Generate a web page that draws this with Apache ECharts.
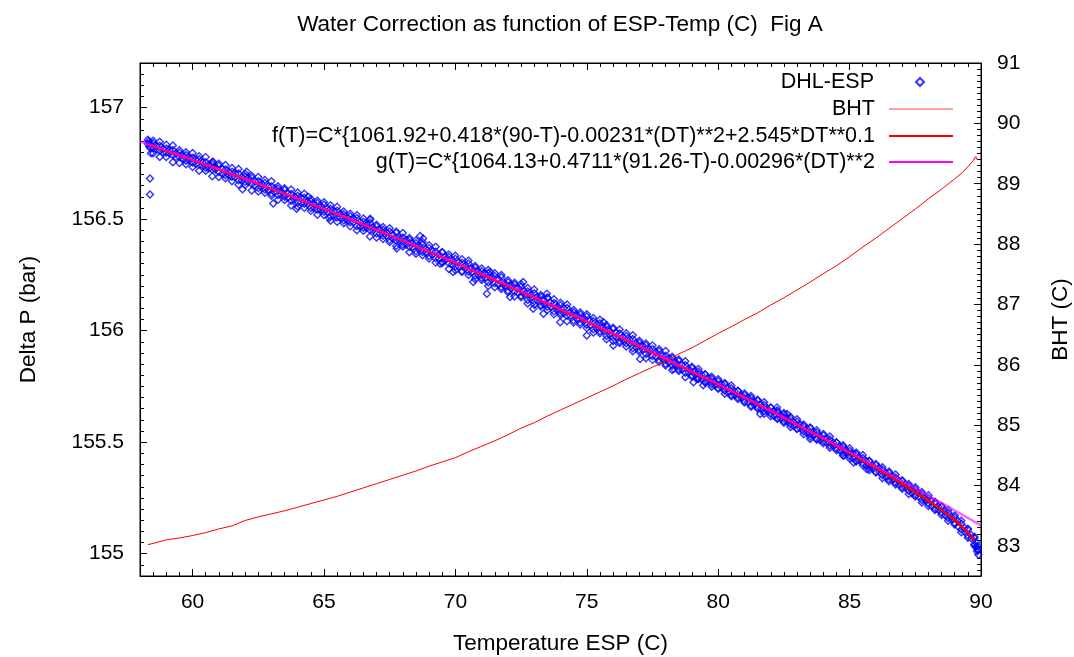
<!DOCTYPE html>
<html>
<head>
<meta charset="utf-8">
<script src="https://cdn.jsdelivr.net/npm/echarts@6/dist/echarts.min.js"></script>
<style>
  html, body { margin: 0; padding: 0; background: #fff; }
  #chart { width: 1074px; height: 657px; }
</style>
</head>
<body>
<div id="chart"></div>
<script>
// DHL-ESP readings: several readings per temperature step
const espTemp = [58.5, 58.75, 59, 59.25, 59.5, 59.75, 60, 60.25, 60.5, 60.75, 61, 61.25, 61.5, 61.75,
  62, 62.25, 62.5, 62.75, 63, 63.25, 63.5, 63.75, 64, 64.25, 64.5, 64.75, 65, 65.25, 65.5, 65.75,
  66, 66.25, 66.5, 66.75, 67, 67.25, 67.5, 67.75, 68, 68.25, 68.5, 68.75, 69, 69.25, 69.5, 69.75,
  70, 70.25, 70.5, 70.75, 71, 71.25, 71.5, 71.75, 72, 72.25, 72.5, 72.75, 73, 73.25, 73.5, 73.75,
  74, 74.25, 74.5, 74.75, 75, 75.25, 75.5, 75.75, 76, 76.25, 76.5, 76.75, 77, 77.25, 77.5, 77.75,
  78, 78.25, 78.5, 78.75, 79, 79.25, 79.5, 79.75, 80, 80.25, 80.5, 80.75, 81, 81.25, 81.5, 81.75,
  82, 82.25, 82.5, 82.75, 83, 83.25, 83.5, 83.75, 84, 84.25, 84.5, 84.75, 85, 85.25, 85.5, 85.75,
  86, 86.25, 86.5, 86.75, 87, 87.25, 87.5, 87.75, 88, 88.25, 88.5, 88.75, 89, 89.25, 89.5, 89.75];
const deltaPUpper = [156.841, 156.829, 156.817, 156.810, 156.798, 156.788, 156.775, 156.769, 156.755, 156.746,
  156.739, 156.722, 156.713, 156.705, 156.691, 156.686, 156.670, 156.662, 156.646, 156.637,
  156.631, 156.613, 156.605, 156.596, 156.580, 156.572, 156.564, 156.547, 156.538, 156.522,
  156.513, 156.505, 156.488, 156.484, 156.467, 156.452, 156.445, 156.439, 156.418, 156.408,
  156.392, 156.386, 156.370, 156.354, 156.350, 156.331, 156.322, 156.305, 156.301, 156.283,
  156.266, 156.259, 156.244, 156.239, 156.217, 156.207, 156.197, 156.176, 156.168, 156.152,
  156.146, 156.124, 156.114, 156.102, 156.083, 156.072, 156.063, 156.043, 156.033, 156.017,
  156.007, 155.987, 155.976, 155.963, 155.946, 155.934, 155.918, 155.908, 155.888, 155.876,
  155.864, 155.846, 155.833, 155.816, 155.803, 155.786, 155.773, 155.760, 155.742, 155.729,
  155.711, 155.698, 155.686, 155.667, 155.654, 155.636, 155.624, 155.606, 155.592, 155.573,
  155.562, 155.544, 155.530, 155.512, 155.498, 155.480, 155.461, 155.447, 155.429, 155.415,
  155.396, 155.376, 155.362, 155.342, 155.325, 155.304, 155.289, 155.268, 155.250, 155.227,
  155.209, 155.185, 155.163, 155.134, 155.108, 155.069];
const deltaPLower = [156.819, 156.807, 156.798, 156.786, 156.779, 156.762, 156.754, 156.745, 156.730, 156.723,
  156.711, 156.697, 156.690, 156.674, 156.667, 156.658, 156.639, 156.633, 156.615, 156.608,
  156.600, 156.582, 156.576, 156.569, 156.550, 156.543, 156.533, 156.513, 156.507, 156.494,
  156.486, 156.468, 156.461, 156.451, 156.435, 156.425, 156.407, 156.403, 156.386, 156.376,
  156.356, 156.353, 156.335, 156.325, 156.308, 156.302, 156.286, 156.268, 156.264, 156.246,
  156.236, 156.216, 156.212, 156.196, 156.180, 156.174, 156.156, 156.137, 156.132, 156.115,
  156.107, 156.086, 156.078, 156.067, 156.045, 156.036, 156.026, 156.006, 155.997, 155.976,
  155.969, 155.953, 155.944, 155.921, 155.914, 155.895, 155.886, 155.869, 155.852, 155.844,
  155.827, 155.811, 155.800, 155.788, 155.770, 155.760, 155.743, 155.731, 155.712, 155.700,
  155.683, 155.665, 155.656, 155.639, 155.627, 155.608, 155.594, 155.580, 155.561, 155.548,
  155.535, 155.515, 155.503, 155.485, 155.472, 155.451, 155.437, 155.418, 155.405, 155.386,
  155.367, 155.352, 155.333, 155.318, 155.298, 155.282, 155.262, 155.241, 155.225, 155.202,
  155.184, 155.160, 155.138, 155.109, 155.082, 155.042];
// outer edge of the band, same temperatures
const deltaPOuterHigh = [156.851, 156.847, 156.834, 156.830, 156.809, 156.800, 156.796, 156.782, 156.778, 156.756,
  156.748, 156.743, 156.729, 156.725, 156.703, 156.694, 156.689, 156.675, 156.670, 156.647,
  156.638, 156.633, 156.619, 156.614, 156.591, 156.582, 156.576, 156.562, 156.556, 156.534,
  156.524, 156.518, 156.503, 156.497, 156.475, 156.465, 156.459, 156.444, 156.438, 156.415,
  156.404, 156.398, 156.383, 156.376, 156.353, 156.342, 156.336, 156.320, 156.314, 156.290,
  156.279, 156.272, 156.257, 156.250, 156.226, 156.215, 156.208, 156.191, 156.184, 156.160,
  156.149, 156.141, 156.125, 156.117, 156.093, 156.081, 156.074, 156.057, 156.049, 156.025,
  156.013, 156.005, 155.988, 155.979, 155.955, 155.942, 155.934, 155.917, 155.909, 155.883,
  155.871, 155.863, 155.838, 155.828, 155.805, 155.793, 155.782, 155.765, 155.754, 155.731,
  155.718, 155.707, 155.690, 155.679, 155.656, 155.643, 155.631, 155.614, 155.603, 155.579,
  155.566, 155.554, 155.537, 155.525, 155.500, 155.486, 155.473, 155.454, 155.442, 155.417,
  155.402, 155.388, 155.369, 155.355, 155.329, 155.312, 155.298, 155.277, 155.262, 155.233,
  155.214, 155.196, 155.171, 155.148, 155.112, 155.076];
const deltaPOuterLow = [156.795, 156.779, 156.779, 156.755, 156.752, 156.746, 156.734, 156.717, 156.717, 156.692,
  156.689, 156.683, 156.670, 156.654, 156.653, 156.628, 156.624, 156.618, 156.605, 156.587,
  156.586, 156.561, 156.557, 156.551, 156.537, 156.520, 156.518, 156.493, 156.488, 156.482,
  156.468, 156.450, 156.448, 156.422, 156.418, 156.411, 156.397, 156.379, 156.377, 156.351,
  156.345, 156.338, 156.324, 156.305, 156.303, 156.276, 156.271, 156.263, 156.249, 156.230,
  156.227, 156.200, 156.195, 156.187, 156.172, 156.153, 156.150, 156.122, 156.116, 156.108,
  156.093, 156.073, 156.070, 156.042, 156.036, 156.027, 156.012, 155.992, 155.988, 155.961,
  155.954, 155.945, 155.929, 155.908, 155.905, 155.876, 155.869, 155.860, 155.844, 155.823,
  155.819, 155.791, 155.794, 155.783, 155.767, 155.749, 155.740, 155.717, 155.706, 155.694,
  155.678, 155.659, 155.650, 155.627, 155.616, 155.604, 155.587, 155.568, 155.559, 155.535,
  155.524, 155.511, 155.495, 155.475, 155.464, 155.440, 155.427, 155.413, 155.396, 155.375,
  155.364, 155.338, 155.325, 155.310, 155.291, 155.268, 155.256, 155.229, 155.214, 155.196,
  155.174, 155.148, 155.131, 155.096, 155.072, 155.037];
// readings in between, closer to the middle of the band
const espTemp2 = [58.625, 58.875, 59.125, 59.375, 59.625, 59.875, 60.125, 60.375, 60.625, 60.875,
  61.125, 61.375, 61.625, 61.875, 62.125, 62.375, 62.625, 62.875, 63.125, 63.375, 63.625, 63.875,
  64.125, 64.375, 64.625, 64.875, 65.125, 65.375, 65.625, 65.875, 66.125, 66.375, 66.625, 66.875,
  67.125, 67.375, 67.625, 67.875, 68.125, 68.375, 68.625, 68.875, 69.125, 69.375, 69.625, 69.875,
  70.125, 70.375, 70.625, 70.875, 71.125, 71.375, 71.625, 71.875, 72.125, 72.375, 72.625, 72.875,
  73.125, 73.375, 73.625, 73.875, 74.125, 74.375, 74.625, 74.875, 75.125, 75.375, 75.625, 75.875,
  76.125, 76.375, 76.625, 76.875, 77.125, 77.375, 77.625, 77.875, 78.125, 78.375, 78.625, 78.875,
  79.125, 79.375, 79.625, 79.875, 80.125, 80.375, 80.625, 80.875, 81.125, 81.375, 81.625, 81.875,
  82.125, 82.375, 82.625, 82.875, 83.125, 83.375, 83.625, 83.875, 84.125, 84.375, 84.625, 84.875,
  85.125, 85.375, 85.625, 85.875, 86.125, 86.375, 86.625, 86.875, 87.125, 87.375, 87.625, 87.875,
  88.125, 88.375, 88.625, 88.875, 89.125, 89.375, 89.625, 89.875];
const deltaPUpper2 = [156.828, 156.816, 156.810, 156.797, 156.788, 156.774, 156.769, 156.755, 156.745, 156.733,
  156.726, 156.712, 156.704, 156.689, 156.684, 156.669, 156.659, 156.646, 156.639, 156.624,
  156.615, 156.600, 156.595, 156.580, 156.569, 156.556, 156.548, 156.534, 156.524, 156.509,
  156.503, 156.487, 156.476, 156.462, 156.455, 156.440, 156.430, 156.414, 156.408, 156.391,
  156.380, 156.366, 156.357, 156.342, 156.331, 156.315, 156.308, 156.292, 156.280, 156.265,
  156.256, 156.241, 156.230, 156.213, 156.206, 156.189, 156.177, 156.161, 156.152, 156.136,
  156.125, 156.107, 156.100, 156.082, 156.070, 156.054, 156.045, 156.028, 156.016, 155.999,
  155.991, 155.973, 155.959, 155.943, 155.933, 155.916, 155.904, 155.886, 155.877, 155.859,
  155.846, 155.829, 155.819, 155.801, 155.789, 155.770, 155.761, 155.742, 155.728, 155.711,
  155.700, 155.682, 155.669, 155.650, 155.641, 155.622, 155.607, 155.590, 155.579, 155.560,
  155.547, 155.527, 155.518, 155.497, 155.482, 155.463, 155.450, 155.431, 155.416, 155.395,
  155.384, 155.362, 155.346, 155.326, 155.311, 155.290, 155.273, 155.250, 155.236, 155.211,
  155.191, 155.166, 155.145, 155.115, 155.084, 155.033];
const deltaPLower2 = [156.813, 156.800, 156.795, 156.778, 156.771, 156.763, 156.747, 156.741, 156.727, 156.722,
  156.704, 156.697, 156.689, 156.673, 156.666, 156.652, 156.646, 156.628, 156.621, 156.611,
  156.595, 156.588, 156.574, 156.568, 156.549, 156.542, 156.532, 156.516, 156.508, 156.494,
  156.487, 156.468, 156.460, 156.450, 156.434, 156.426, 156.411, 156.404, 156.385, 156.376,
  156.366, 156.349, 156.340, 156.325, 156.317, 156.298, 156.289, 156.279, 156.261, 156.252,
  156.236, 156.229, 156.209, 156.200, 156.189, 156.171, 156.162, 156.145, 156.137, 156.117,
  156.108, 156.096, 156.078, 156.068, 156.052, 156.043, 156.023, 156.013, 156.001, 155.983,
  155.973, 155.956, 155.946, 155.925, 155.915, 155.903, 155.884, 155.874, 155.856, 155.847,
  155.826, 155.815, 155.803, 155.783, 155.773, 155.755, 155.745, 155.723, 155.712, 155.699,
  155.679, 155.668, 155.650, 155.640, 155.618, 155.607, 155.593, 155.573, 155.562, 155.543,
  155.533, 155.510, 155.499, 155.484, 155.463, 155.450, 155.430, 155.419, 155.395, 155.382,
  155.367, 155.344, 155.331, 155.310, 155.296, 155.271, 155.256, 155.239, 155.214, 155.197,
  155.173, 155.155, 155.123, 155.100, 155.069, 155.017];
// scattered readings off the band
const extraTemp = [58.30, 58.30, 58.33, 58.35, 58.38, 58.40, 58.42, 58.38, 58.38, 60.78, 61.90, 62.06,
  63.07, 63.96, 64.40, 65.20, 66.76, 67.77, 68.66, 68.77, 69.42, 69.91, 70.68, 71.20, 71.32, 72.08,
  72.58, 72.96, 73.35, 73.48, 73.99, 75.00, 75.64, 76.01, 77.03, 78.30, 79.06, 79.19, 79.43, 81.60,
  82.24, 82.62, 83.50, 84.77, 85.15, 85.66, 89.80, 89.82, 89.85, 89.88, 89.90];
const extraDeltaP = [156.856, 156.838, 156.849, 156.826, 156.842, 156.818, 156.795, 156.682, 156.610, 156.757, 156.634, 156.712,
  156.570, 156.547, 156.600, 156.505, 156.502, 156.368, 156.424, 156.413, 156.300, 156.263, 156.218, 156.165, 156.263, 156.151,
  156.218, 156.098, 156.076, 156.165, 156.038, 155.978, 156.038, 155.933, 155.873, 155.828, 155.769, 155.783, 155.755, 155.626,
  155.656, 155.626, 155.514, 155.439, 155.409, 155.379, 155.030, 155.050, 155.010, 155.020, 154.995];

// BHT (right axis)
const bhtTemp = [58.3, 58.5, 59, 59.5, 60, 60.5, 61, 61.5, 62, 62.5, 63, 63.5, 64, 64.5, 65, 65.5, 66, 66.5,
  67, 67.5, 68, 68.5, 69, 69.5, 70, 70.5, 71, 71.5, 72, 72.5, 73, 73.5, 74, 74.5, 75, 75.5, 76, 76.5,
  77, 77.5, 78, 78.5, 79, 79.5, 80, 80.5, 81, 81.5, 82, 82.5, 83, 83.5, 84, 84.5, 85, 85.5, 86, 86.5,
  87, 87.5, 88, 88.5, 89, 89.3, 89.5, 89.7, 89.8, 89.83, 89.85];
const bhtValues = [83.02, 83.04, 83.10, 83.13, 83.17, 83.22, 83.28, 83.33, 83.42, 83.48, 83.53, 83.58, 83.64, 83.70,
  83.76, 83.82, 83.89, 83.96, 84.03, 84.10, 84.17, 84.24, 84.32, 84.39, 84.46, 84.56, 84.65, 84.74, 84.84,
  84.95, 85.04, 85.15, 85.25, 85.35, 85.45, 85.55, 85.65, 85.76, 85.86, 85.96, 86.06, 86.18, 86.28, 86.40,
  86.52, 86.63, 86.75, 86.86, 86.99, 87.11, 87.24, 87.37, 87.51, 87.64, 87.79, 87.95, 88.10, 88.26, 88.42,
  88.58, 88.75, 88.91, 89.08, 89.19, 89.28, 89.38, 89.45, 89.48, 89.40];

// fitted curves
const fTemp = [58.3, 60, 62, 64, 66, 68, 70, 72, 74, 76, 78, 80, 82, 84, 85, 86, 87, 88, 88.5, 89, 89.25, 89.5, 89.75];
const fValues = [156.835, 156.765, 156.680, 156.591, 156.499, 156.404, 156.303, 156.200, 156.094, 155.985, 155.872,
  155.758, 155.640, 155.516, 155.451, 155.384, 155.313, 155.238, 155.196, 155.151, 155.124, 155.096, 155.058];
const gTemp = [58, 60, 62, 64, 66, 68, 70, 72, 74, 76, 78, 80, 82, 84, 86, 88, 90];
const gValues = [156.848, 156.766, 156.681, 156.592, 156.500, 156.405, 156.306, 156.204, 156.098, 155.989,
  155.876, 155.760, 155.640, 155.517, 155.391, 155.261, 155.127];

const FONT = 'Liberation Sans';
const FS = 21;
const FS_BIG = 22.5;
const NAME_DHL = 'DHL-ESP';
const NAME_BHT = 'BHT';
const NAME_F = 'f(T)=C*{1061.92+0.418*(90-T)-0.00231*(DT)**2+2.545*DT**0.1';
const NAME_G = 'g(T)=C*{1064.13+0.4711*(91.26-T)-0.00296*(DT)**2';

function pairs(xs, ys) {
  return xs.map((x, i) => [x, ys[i]]);
}

const dhlData = [];
espTemp.forEach((t, i) => {
  dhlData.push([t, deltaPOuterHigh[i]], [t, deltaPOuterLow[i]]);
  dhlData.push([t, deltaPUpper[i]], [t, deltaPLower[i]]);
});
espTemp2.forEach((t, i) => {
  dhlData.push([t, deltaPUpper2[i]], [t, deltaPLower2[i]]);
});
extraTemp.forEach((t, i) => dhlData.push([t, extraDeltaP[i]]));

const chart = echarts.init(document.getElementById('chart'));

const labelStyle = { fontFamily: FONT, fontSize: FS, color: '#000' };
const nameStyle = { fontFamily: FONT, fontSize: FS_BIG, color: '#000' };
const blackLine = { show: true, onZero: false, lineStyle: { color: '#000', width: 1 } };
const majorTick = { show: true, inside: true, length: 7, lineStyle: { color: '#000' } };
const minorTick = { show: true, inside: true, length: 4, lineStyle: { color: '#000' } };

function minorAxis(pos, min, max, step) {
  return {
    type: 'value', position: pos, min: min, max: max, interval: step,
    axisLine: { show: false }, axisTick: minorTick,
    axisLabel: { show: false }, splitLine: { show: false }
  };
}

// one legend box per entry so the samples line up on the right
function legendBox(item, top, opts) {
  return Object.assign({
    data: [item],
    right: 116,
    top: top,
    itemWidth: 64,
    itemHeight: 2,
    icon: 'rect',
    selectedMode: false,
    align: 'right',
    textStyle: { fontFamily: FONT, fontSize: 21.5, color: '#000', lineHeight: 24, padding: [0, 9, 0, 0] }
  }, opts || {});
}

const option = {
  animation: false,
  backgroundColor: '#fff',
  title: {
    text: 'Water Correction as function of ESP-Temp (C)  Fig A',
    left: 555,
    textAlign: 'center',
    top: 8,
    textStyle: { fontFamily: FONT, fontSize: FS_BIG, fontWeight: 'normal', color: '#000' }
  },
  grid: {
    left: 140, right: 93, top: 63, bottom: 81,
    outerBoundsMode: 'none',
    show: true, borderColor: '#000', borderWidth: 1, backgroundColor: '#fff'
  },
  legend: [
    legendBox({ name: NAME_DHL, icon: 'diamond' }, 65, {
      right: 144, itemWidth: 8, itemHeight: 8,
      textStyle: { fontFamily: FONT, fontSize: 21.5, color: '#000', lineHeight: 24, padding: [0, 37, 0, 0] }
    }),
    legendBox({ name: NAME_BHT, itemStyle: { color: '#ff8080' } }, 92, { itemHeight: 1.5 }),
    legendBox({ name: NAME_F }, 119),
    legendBox({ name: NAME_G, itemStyle: { color: '#ff00ff', opacity: 1 } }, 145)
  ],
  xAxis: [
    {
      type: 'value', position: 'bottom', min: 58, max: 90, splitNumber: 6,
      name: 'Temperature ESP (C)', nameLocation: 'middle', nameGap: 56,
      nameTextStyle: nameStyle,
      axisLine: blackLine, axisTick: majorTick,
      axisLabel: Object.assign({ margin: 16, showMinLabel: false }, labelStyle),
      splitLine: { show: false }
    },
    {
      type: 'value', position: 'top', min: 58, max: 90, splitNumber: 6,
      axisLine: blackLine, axisTick: majorTick,
      axisLabel: { show: false }, splitLine: { show: false }
    },
    minorAxis('bottom', 58, 90, 0.5),
    minorAxis('top', 58, 90, 0.5)
  ],
  yAxis: [
    {
      type: 'value', position: 'left', min: 154.9, max: 157.2, splitNumber: 5,
      name: 'Delta P (bar)', nameLocation: 'middle', nameGap: 100,
      nameTextStyle: nameStyle,
      axisLine: blackLine, axisTick: majorTick,
      axisLabel: Object.assign({ margin: 16, showMinLabel: false, showMaxLabel: false }, labelStyle),
      splitLine: { show: false }
    },
    {
      type: 'value', position: 'right', min: 82.5, max: 91, splitNumber: 8,
      name: 'BHT (C)', nameLocation: 'middle', nameGap: 68,
      nameTextStyle: nameStyle,
      axisLine: blackLine, axisTick: majorTick,
      axisLabel: Object.assign({ margin: 16, showMinLabel: false }, labelStyle),
      splitLine: { show: false }
    },
    minorAxis('left', 154.9, 157.2, 0.05),
    minorAxis('right', 82.5, 91, 0.1)
  ],
  series: [
    {
      name: NAME_DHL, type: 'scatter', xAxisIndex: 0, yAxisIndex: 0,
      symbol: 'diamond', symbolSize: 7,
      itemStyle: { color: 'rgba(0,0,255,0)', borderColor: '#0000ff', borderWidth: 1.4 },
      data: dhlData, z: 2
    },
    {
      name: NAME_BHT, type: 'line', xAxisIndex: 0, yAxisIndex: 1,
      symbol: 'none', lineStyle: { color: '#ff0000', width: 1 },
      itemStyle: { color: '#ff0000' },
      data: pairs(bhtTemp, bhtValues), z: 3
    },
    {
      name: NAME_F, type: 'line', xAxisIndex: 0, yAxisIndex: 0,
      symbol: 'none', lineStyle: { color: '#ff0000', width: 2.5 },
      itemStyle: { color: '#ff0000' },
      data: pairs(fTemp, fValues), z: 4
    },
    {
      name: NAME_G, type: 'line', xAxisIndex: 0, yAxisIndex: 0,
      symbol: 'none', lineStyle: { color: '#ff00ff', width: 2.5, opacity: 0.6 },
      itemStyle: { color: '#ff00ff' },
      data: pairs(gTemp, gValues), z: 5
    }
  ]
};

chart.setOption(option);
</script>
</body>
</html>
